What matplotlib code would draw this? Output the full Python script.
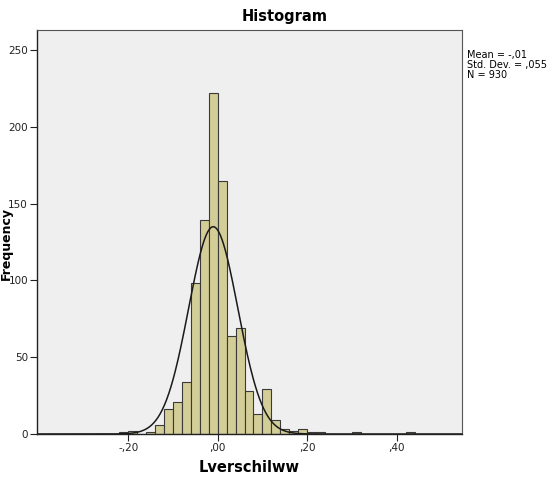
import numpy as np
import matplotlib
matplotlib.use("Agg")
import matplotlib.pyplot as plt

# Histogram bins (left edges) and counts
bin_width = 0.02
bin_lefts = [-0.22, -0.20, -0.16, -0.14, -0.12, -0.10, -0.08, -0.06, -0.04, -0.02,
             0.00, 0.02, 0.04, 0.06, 0.08, 0.10, 0.12, 0.14, 0.16, 0.18,
             0.20, 0.22, 0.30, 0.42]
counts = [1, 2, 1, 6, 16, 21, 34, 98, 139, 222,
          165, 64, 69, 28, 13, 29, 9, 3, 2, 3,
          1, 1, 1, 1]

mean_val = -0.01
sd_val = 0.055
n_val = 930

xticks = [-0.20, 0.00, 0.20, 0.40]
xtick_labels = ["-,20", ",00", ",20", ",40"]
yticks = [0, 50, 100, 150, 200, 250]

fig = plt.figure(figsize=(5.6, 4.84), dpi=100)
ax = fig.add_axes([37/560, 1 - 434/484, (461.5 - 37)/560, (434 - 29.5)/484])
ax.set_facecolor("#EFEFEF")

ax.bar(bin_lefts, counts, width=bin_width, align="edge",
       color="#D3CD97", edgecolor="#3a3a3a", linewidth=0.8, zorder=2)

xs = np.linspace(-0.404, 0.545, 600)
pdf = n_val * bin_width / (sd_val * np.sqrt(2 * np.pi)) * np.exp(-0.5 * ((xs - mean_val) / sd_val) ** 2)
ax.plot(xs, pdf, color="#1a1a1a", linewidth=1.1, zorder=3)

ax.set_xlim(-0.404, 0.545)
ax.set_ylim(0, 263.3)
ax.set_xticks(xticks)
ax.set_xticklabels(xtick_labels)
ax.set_yticks(yticks)
ax.tick_params(axis="both", direction="out", length=5, width=0.8,
               labelsize=7.5, colors="#222222", pad=1.5)

for side in ["left", "bottom"]:
    ax.spines[side].set_color("#222222")
    ax.spines[side].set_linewidth(1.0)
for side in ["top", "right"]:
    ax.spines[side].set_color("#555555")
    ax.spines[side].set_linewidth(0.8)

ax.set_xlabel("Lverschilww", fontsize=10.5, fontweight="bold", labelpad=5)

fig.text(6.5/560, 1 - 243/484, "Frequency", ha="center", va="center",
         rotation=90, fontsize=9, fontweight="bold")

fig.text(285/560, 1 - 17/484, "Histogram", ha="center", va="center",
         fontsize=10.5, fontweight="bold")

fig.text(467/560, 1 - 50/484, "Mean = -,01\nStd. Dev. = ,055\nN = 930",
         ha="left", va="top", fontsize=7, linespacing=1.0)

fig.savefig("out.png", dpi=100)
